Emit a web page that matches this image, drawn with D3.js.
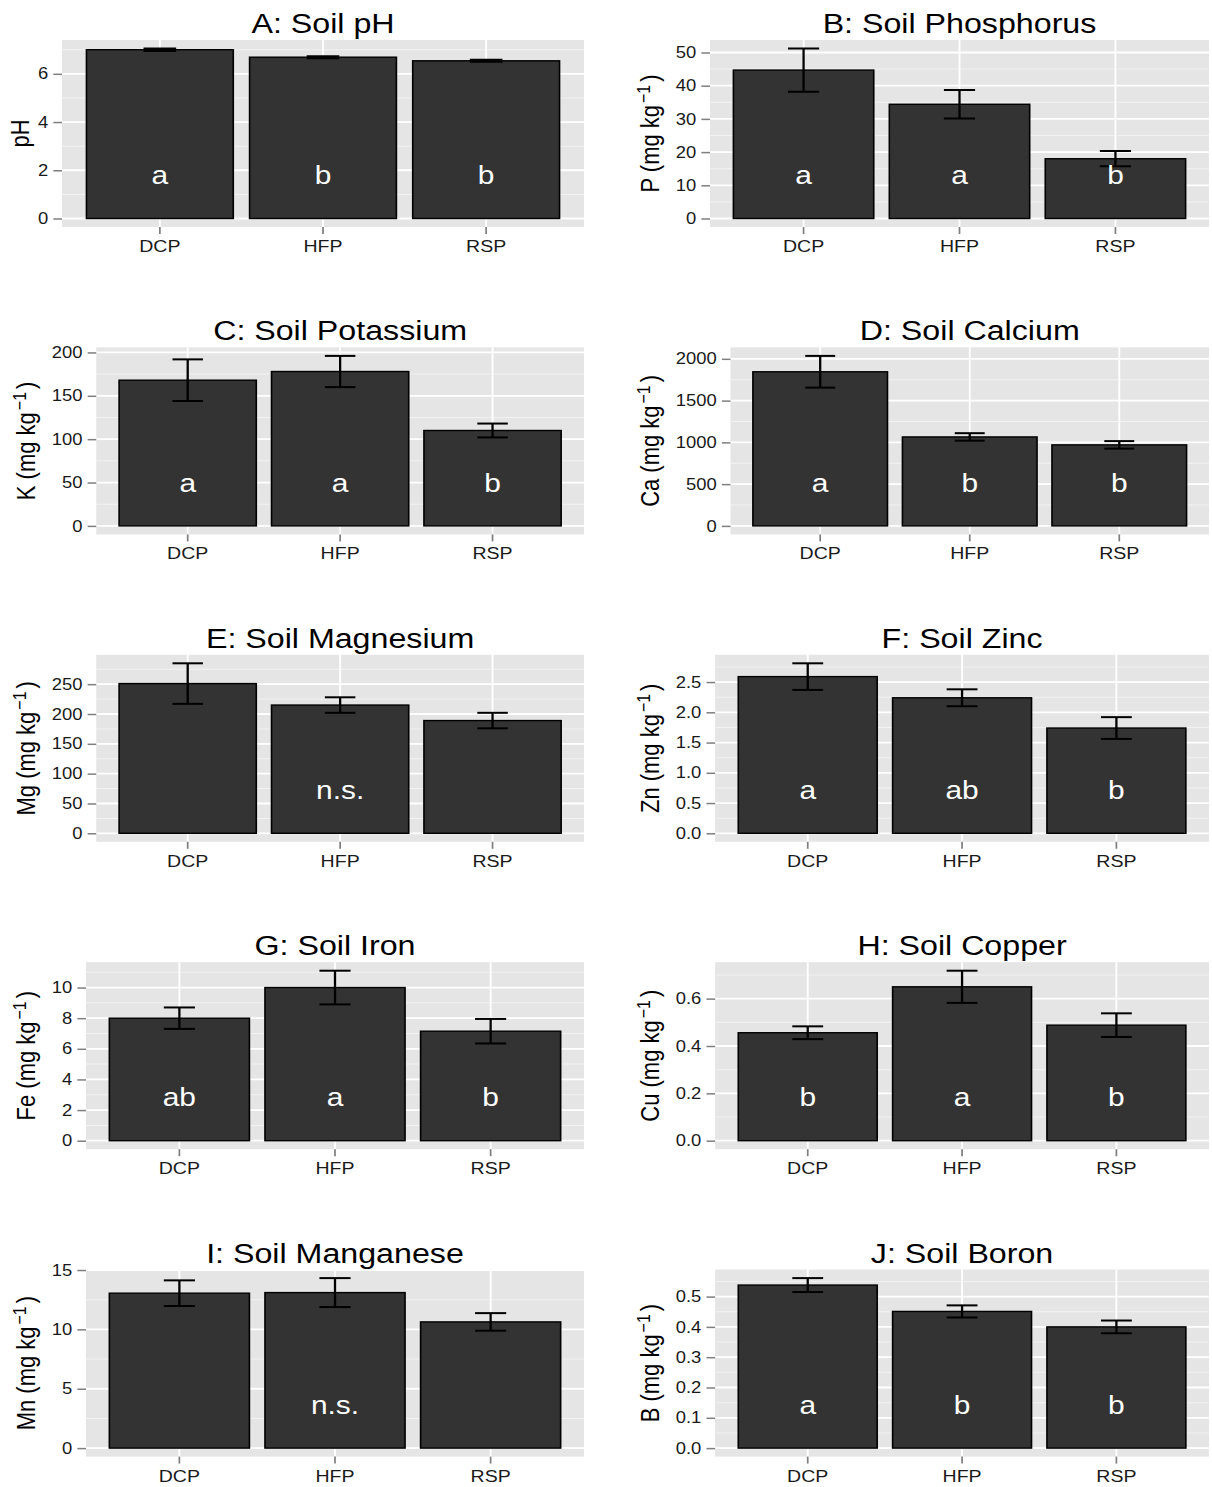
<!DOCTYPE html>
<html>
<head>
<meta charset="utf-8">
<script src="https://cdn.jsdelivr.net/npm/d3@7/dist/d3.min.js"></script>
<style>
    body { margin: 0; background: #fff; }
    svg text { font-family: "Liberation Sans", Arial, Helvetica, sans-serif; }
</style>
</head>
<body>
<svg id="chart"></svg>
<script>
// ---- data ----
var categories = ["DCP", "HFP", "RSP"];

var panelTitles = [
    "A: Soil pH", "B: Soil Phosphorus",
    "C: Soil Potassium", "D: Soil Calcium",
    "E: Soil Magnesium", "F: Soil Zinc",
    "G: Soil Iron", "H: Soil Copper",
    "I: Soil Manganese", "J: Soil Boron"
];

var elements = ["pH", "P", "K", "Ca", "Mg", "Zn", "Fe", "Cu", "Mn", "B"];
var hasUnit = [false, true, true, true, true, true, true, true, true, true];

var meanValues = [
    [7.00, 6.69, 6.54],
    [44.7, 34.4, 18.0],
    [168, 178, 110],
    [1845, 1065, 970],
    [251, 215, 189],
    [2.59, 2.24, 1.74],
    [8.0, 10.0, 7.15],
    [0.456, 0.650, 0.488],
    [13.05, 13.1, 10.63],
    [0.538, 0.451, 0.400]
];

var seValues = [
    [0.05, 0.04, 0.04],
    [6.5, 4.3, 2.3],
    [24, 18, 8],
    [190, 45, 45],
    [34, 13, 13],
    [0.22, 0.14, 0.18],
    [0.7, 1.1, 0.8],
    [0.027, 0.068, 0.05],
    [1.08, 1.22, 0.74],
    [0.023, 0.020, 0.021]
];

var groupLetters = [
    ["a", "b", "b"],
    ["a", "a", "b"],
    ["a", "a", "b"],
    ["a", "b", "b"],
    ["", "n.s.", ""],
    ["a", "ab", "b"],
    ["ab", "a", "b"],
    ["b", "a", "b"],
    ["", "n.s.", ""],
    ["a", "b", "b"]
];

var tickValues = [
    [0, 2, 4, 6],
    [0, 10, 20, 30, 40, 50],
    [0, 50, 100, 150, 200],
    [0, 500, 1000, 1500, 2000],
    [0, 50, 100, 150, 200, 250],
    [0, 0.5, 1, 1.5, 2, 2.5],
    [0, 2, 4, 6, 8, 10],
    [0, 0.2, 0.4, 0.6],
    [0, 5, 10, 15],
    [0, 0.1, 0.2, 0.3, 0.4, 0.5]
];

var tickFormats = ["d", "d", "d", "d", "d", ".1f", "d", ".1f", "d", ".1f"];

// ---- layout ----
var SX = 1.15; // the original picture is stretched horizontally
var W = 1212, H = 1487, VW = W / SX;
var FONT = '"Liberation Sans", Arial, Helvetica, sans-serif';

var colX = [0, 624 / SX],
    colRight = [584 / SX, 1209 / SX];
var panelH = 187;
function rowTop(r) { return 40 + 307.4 * r; }

var svg = d3.select("#chart")
    .attr("width", W)
    .attr("height", H)
    .attr("viewBox", "0 0 " + VW + " " + H)
    .attr("preserveAspectRatio", "none");

panelTitles.forEach(function (title, i) {
    var col = i % 2,
        row = Math.floor(i / 2);
    var g = svg.append("g");

    var top = rowTop(row),
        bottom = top + panelH;

    var means = meanValues[i],
        ses = seValues[i],
        ticks = tickValues[i];
    var fmt = d3.format(tickFormats[i]);

    var maxVal = d3.max(means.map(function (m, j) { return m + ses[j]; }));
    var y = d3.scaleLinear()
        .domain([-0.05 * maxVal, 1.05 * maxVal])
        .range([bottom, top]);

    // width of the widest tick label decides where the panel starts
    var probe = g.append("text").attr("font-size", 16).attr("font-family", FONT);
    var tw = 0;
    ticks.forEach(function (v) {
        probe.text(fmt(v));
        tw = Math.max(tw, probe.node().getComputedTextLength());
    });
    probe.remove();

    var left = colX[col] + (hasUnit[i] ? 45 : 33) + tw + 12,
        right = colRight[col];

    var x = d3.scaleBand()
        .domain(categories)
        .range([left, right])
        .paddingInner(0.1)
        .paddingOuter(0.15);

    // panel background
    g.append("rect")
        .attr("x", left)
        .attr("y", top)
        .attr("width", right - left)
        .attr("height", panelH)
        .attr("fill", "#e5e5e5");

    // minor grid
    var step = ticks[1] - ticks[0];
    var minors = ticks.map(function (t) { return t + step / 2; })
        .filter(function (v) { return v <= y.domain()[1]; });
    g.selectAll(".minor")
        .data(minors)
        .enter()
        .append("line")
        .attr("x1", left)
        .attr("x2", right)
        .attr("y1", function (d) { return y(d); })
        .attr("y2", function (d) { return y(d); })
        .style("stroke", "#f2f2f2")
        .style("stroke-width", 1);

    // major grid
    g.selectAll(".major")
        .data(ticks)
        .enter()
        .append("line")
        .attr("x1", left)
        .attr("x2", right)
        .attr("y1", function (d) { return y(d); })
        .attr("y2", function (d) { return y(d); })
        .style("stroke", "#fff")
        .style("stroke-width", 1.8);

    g.selectAll(".vgrid")
        .data(categories)
        .enter()
        .append("line")
        .attr("x1", function (d) { return x(d) + x.bandwidth() / 2; })
        .attr("x2", function (d) { return x(d) + x.bandwidth() / 2; })
        .attr("y1", top)
        .attr("y2", bottom)
        .style("stroke", "#fff")
        .style("stroke-width", 1.6);

    // bars
    g.selectAll(".bar")
        .data(categories)
        .enter()
        .append("rect")
        .attr("x", function (d) { return x(d); })
        .attr("width", x.bandwidth())
        .attr("y", function (d, j) { return y(means[j]); })
        .attr("height", function (d, j) { return y(0) - y(means[j]); })
        .attr("fill", "#333333")
        .attr("stroke", "#000")
        .attr("stroke-width", 1.4);

    // error bars
    var capHalf = x.step() * 0.1;
    categories.forEach(function (c, j) {
        var cx = x(c) + x.bandwidth() / 2,
            hi = y(means[j] + ses[j]),
            lo = y(means[j] - ses[j]);
        var eb = g.append("g")
            .style("stroke", "#000")
            .style("stroke-width", 2);
        eb.append("line").attr("x1", cx).attr("x2", cx).attr("y1", hi).attr("y2", lo);
        eb.append("line").attr("x1", cx - capHalf).attr("x2", cx + capHalf).attr("y1", hi).attr("y2", hi);
        eb.append("line").attr("x1", cx - capHalf).attr("x2", cx + capHalf).attr("y1", lo).attr("y2", lo);
    });

    // significance letters
    g.selectAll(".letter")
        .data(categories)
        .enter()
        .append("text")
        .attr("x", function (d) { return x(d) + x.bandwidth() / 2; })
        .attr("y", y(0.255 * maxVal))
        .attr("dy", "0.35em")
        .attr("text-anchor", "middle")
        .attr("font-size", 26)
        .attr("fill", "#fff")
        .text(function (d, j) { return groupLetters[i][j]; });

    // y axis
    var yAxis = g.append("g")
        .attr("transform", "translate(" + left + ",0)")
        .call(d3.axisLeft(y).tickValues(ticks).tickFormat(fmt).tickSize(7.5).tickPadding(4.5));
    yAxis.select(".domain").remove();
    yAxis.attr("font-size", 16).attr("font-family", FONT);
    yAxis.selectAll("line").style("stroke", "#7f7f7f").style("stroke-width", 1.5);
    yAxis.selectAll("text").attr("fill", "#1a1a1a");

    // x axis
    var xAxis = g.append("g")
        .attr("transform", "translate(0," + bottom + ")")
        .call(d3.axisBottom(x).tickSize(7).tickPadding(6));
    xAxis.select(".domain").remove();
    xAxis.attr("font-size", 17).attr("font-family", FONT);
    xAxis.selectAll("line").style("stroke", "#7f7f7f").style("stroke-width", 1.5);
    xAxis.selectAll("text").attr("fill", "#1a1a1a");

    // y title
    var ty = (top + bottom) / 2,
        tx = colX[col] + (hasUnit[i] ? 30.4 : 25.2);
    var yTitle = g.append("text")
        .attr("transform", "translate(" + tx + "," + ty + ") rotate(-90)")
        .attr("text-anchor", "middle")
        .attr("font-size", 22)
        .attr("fill", "#000");
    if (hasUnit[i]) {
        yTitle.append("tspan").text(elements[i] + " (mg kg");
        yTitle.append("tspan").attr("font-size", 16).attr("dx", 2).attr("dy", -8).text("\u22121");
        yTitle.append("tspan").attr("dx", 3).attr("dy", 8).text(")");
    } else {
        yTitle.text(elements[i]);
    }

    // panel title
    g.append("text")
        .attr("x", (left + right) / 2)
        .attr("y", top - 7)
        .attr("text-anchor", "middle")
        .attr("font-size", 28)
        .attr("fill", "#000")
        .text(title);
});
</script>
</body>
</html>
